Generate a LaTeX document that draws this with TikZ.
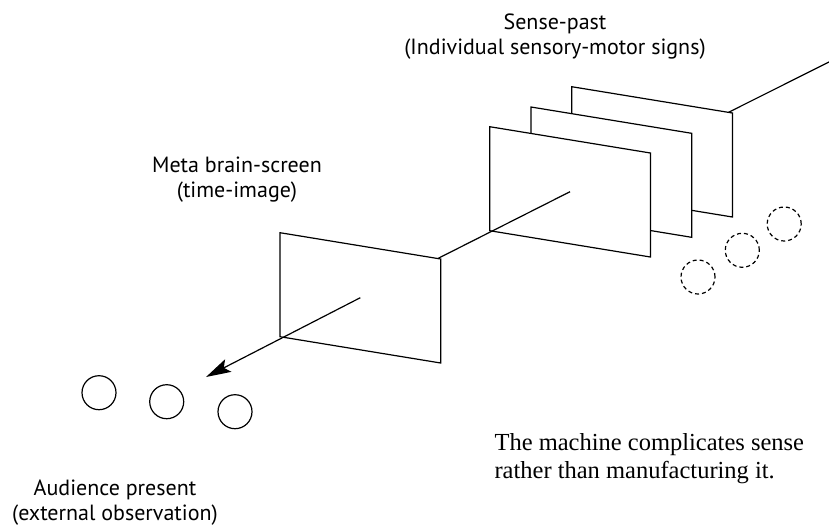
\documentclass[tikz,border=0pt]{standalone}
\usepackage{fontspec}
\setmainfont{Liberation Serif}
\newfontfamily\labelfont{PT Sans}
\usetikzlibrary{arrows.meta,calc}

\tikzstyle{screen}=[draw, fill=white, line width=1.2pt]
\tikzstyle{axis}=[line width=1.2pt]
\tikzstyle{viewer}=[draw, circle, line width=1.2pt, minimum size=34pt, inner sep=0pt]
\tikzstyle{sign}=[viewer, dash pattern=on 4pt off 3pt]
\tikzstyle{caption}=[font=\labelfont\fontsize{22}{25}\selectfont, align=center, anchor=base]

\begin{document}
\begin{tikzpicture}[x=1pt, y=-1pt]
  \useasboundingbox (0,0) rectangle (829,528);
  \coordinate (far) at (829,62);
  \coordinate (tip) at (206,377);
  \foreach \name/\x/\y in {back/652/151.7, middle/611.3/172, front/570/191.7, meta/360.3/297.7} {
    \coordinate (\name) at (\x,\y);
  }
  % the axis runs behind the screens
  \draw[axis] (far) -- (front);
  \foreach \name in {back, middle, front} {
    \draw[screen] ($(\name)+(-80.3,-65)$) -- ++(160.7,26.3) -- ++(0,104) -- ++(-160.7,-26.3) -- cycle;
  }
  \draw[axis] (front) -- (meta);
  \draw[screen] ($(meta)+(-80.3,-65)$) -- ++(160.7,26.3) -- ++(0,104) -- ++(-160.7,-26.3) -- cycle;
  \draw[axis, -{Stealth[length=25pt, width=14pt, inset=5pt]}] (meta) -- (tip);

  \foreach \x/\y [count=\i] in {99/392.7, 166.7/401.7, 235/411.7} {
    \node[viewer] (viewer\i) at (\x,\y) {};
  }
  \foreach \x/\y [count=\i] in {698/277, 742.3/250.3, 784.2/224} {
    \node[sign] (sign\i) at (\x,\y) {};
  }

  \node[caption] (pastlabel) at (555,54) {Sense-past\\(Individual sensory-motor signs)};
  \node[caption] (metalabel) at (237,197) {Meta brain-screen\\(time-image)};
  \node[caption] (audlabel) at (115,520) {Audience present\\(external observation)};
  \node[font=\fontsize{24.5}{28}\selectfont, align=left, anchor=base west] (note) at (491,478)
    {The machine complicates sense\\rather than manufacturing it.};
\end{tikzpicture}
\end{document}
